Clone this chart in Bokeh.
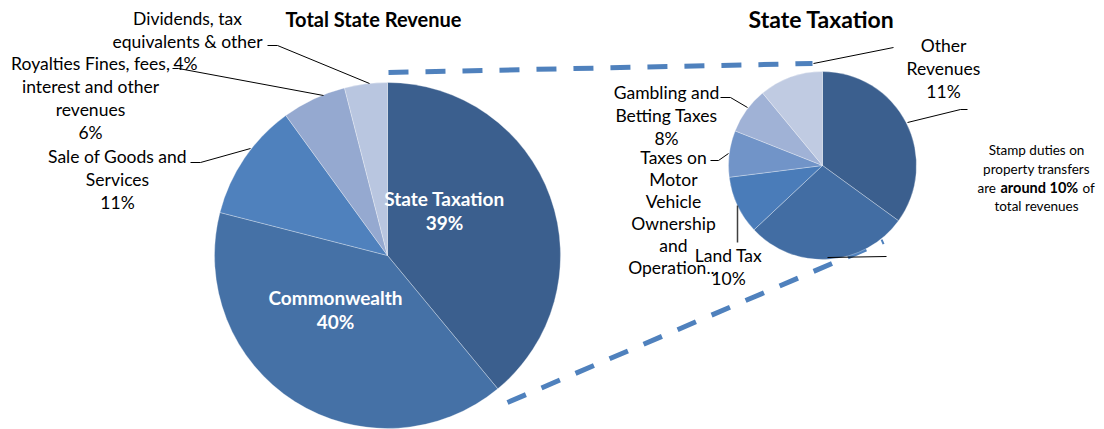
import numpy as np
from bokeh.plotting import figure
from bokeh.models import ColumnDataSource, Range1d
from bokeh.core.properties import value
from bokeh.embed import file_html
from bokeh.resources import INLINE

# ---------------- data ----------------
left_categories = ["State Taxation", "Commonwealth", "Sale of Goods and Services",
                   "Royalties Fines, fees, interest and other revenues",
                   "Dividends, tax equivalents & other"]
left_values = [39, 40, 11, 6, 4]
left_colors = ["#3B5F8E", "#4571A6", "#4F81BD", "#95A9D0", "#B9C6E0"]

right_categories = ["Payroll Tax", "Stamp Duties", "Land Tax",
                    "Taxes on Motor Vehicle Ownership and Operation",
                    "Gambling and Betting Taxes", "Other Revenues"]
right_values = [35, 28, 10, 8, 8, 11]
right_colors = ["#3B5F8E", "#426DA3", "#4A7CB9", "#7194C8", "#A0B2D6", "#C0CBE2"]

W, H = 1104, 429
FONT = "Lato"


def X(rx):
    return rx


def Y(ry):
    return H - ry


p = figure(width=W, height=H, output_backend="svg", toolbar_location=None,
           x_range=Range1d(0, W), y_range=Range1d(0, H),
           min_border=0, outline_line_color=None)
p.axis.visible = False
p.grid.visible = False
p.background_fill_color = "white"


def pie(values, colors, cx, cy, r):
    v = np.array(values, dtype=float)
    frac = v / v.sum()
    cum = np.concatenate([[0], np.cumsum(frac)])
    start = np.pi / 2 - 2 * np.pi * cum[1:]
    end = np.pi / 2 - 2 * np.pi * cum[:-1]
    src = ColumnDataSource(dict(start=start, end=end, color=colors))
    p.wedge(x=X(cx), y=Y(cy), radius=r, start_angle="start", end_angle="end",
            fill_color="color", line_color="white", line_width=0.6, line_alpha=0.5,
            source=src)


# dashed connectors (drawn before pies)
p.line([X(388), X(812)], [Y(72), Y(63)], line_color="#4F81BD", line_width=5,
       line_dash="20 17")
p.line([X(507), X(883)], [Y(402), Y(241)], line_color="#4F81BD", line_width=5,
       line_dash="20 17")

pie(left_values, left_colors, 387, 255, 173)
pie(right_values, right_colors, 822, 165, 94)


def txt(x, y, s, size=17.5, bold=False, color="#000000", align="center"):
    p.text(x=[X(x)], y=[Y(y)], text=[s], text_font=value(FONT),
           text_font_size=f"{size}px", text_font_style="bold" if bold else "normal",
           text_color=color, text_align=align, text_baseline="middle")


def lines_label(x, y0, lines, step=23, size=17.5):
    for i, s in enumerate(lines):
        txt(x, y0 + i * step, s, size=size)


def leader(pts, color="#000000", width=1):
    p.line([X(a) for a, b in pts], [Y(b) for a, b in pts], line_color=color,
           line_width=width)


# titles
txt(373, 18, "Total State Revenue", size=20, bold=True)
txt(821, 18, "State Taxation", size=23, bold=True)

# inside labels (left pie)
txt(444, 198, left_categories[0], size=19, bold=True, color="white")
txt(444, 222, f"{left_values[0]}%", size=19, bold=True, color="white")
txt(335, 297, left_categories[1], size=19, bold=True, color="white")
txt(335, 321, f"{left_values[1]}%", size=19, bold=True, color="white")

# outside labels (left pie)
lines_label(117, 156, ["Sale of Goods and", "Services", f"{left_values[2]}%"])
leader([(190, 162), (200, 162), (250, 148)])
lines_label(90, 63, ["Royalties Fines, fees,", "interest and other", "revenues",
                     f"{left_values[3]}%"])
leader([(172, 68), (178, 68), (323, 95)])
lines_label(187, 18, ["Dividends, tax", "equivalents & other"])
txt(185, 63, f"{left_values[4]}%")
leader([(267, 45), (277, 45), (369, 83)])

# outside labels (right pie)
lines_label(943, 45, ["Other", "Revenues", f"{right_values[5]}%"])
leader([(813, 63), (893, 47)])
lines_label(666, 92, ["Gambling and", "Betting Taxes", f"{right_values[4]}%"])
leader([(720, 97), (730, 97), (747, 107)])
lines_label(673, 157, ["Taxes on", "Motor", "Vehicle", "Ownership", "and", "Operation..."],
            step=22)
leader([(710, 160), (718, 160), (728, 153)])
lines_label(728, 255, ["Land Tax", f"{right_values[2]}%"])
leader([(737, 205), (737, 242)], color="#404040", width=1.5)
leader([(907, 122), (960, 109), (967, 109)])
leader([(827, 257), (886, 256)])

# annotation
for yy, s in [(149, "Stamp duties on"), (168, "property transfers"), (205, "total revenues")]:
    txt(1036, yy, s, size=13.5)
txt(977, 187, "are", size=13.5, align="left")
txt(1000, 187, "around 10%", size=14.5, bold=True, align="left")
txt(1082, 187, "of", size=13.5, align="left")

open("out.html", "w").write(file_html(p, INLINE))
